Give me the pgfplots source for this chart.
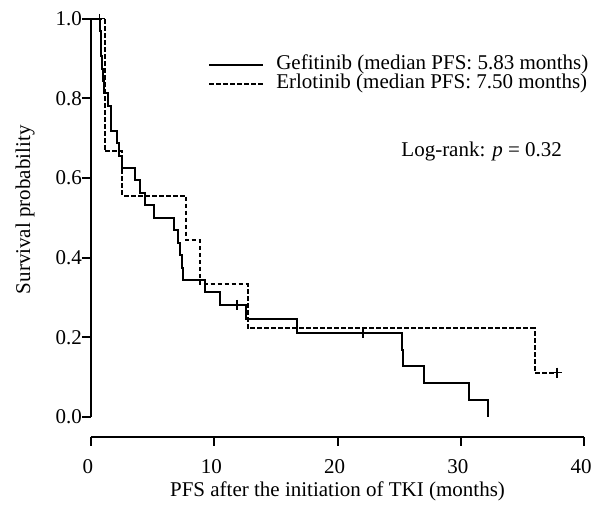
\documentclass[border=0pt]{standalone}
\usepackage{fontspec}
\setmainfont{Liberation Serif}
\usepackage{pgfplots}
\pgfplotsset{compat=1.18}
\begin{document}
\fontsize{21}{23}\selectfont
\begin{tikzpicture}
\useasboundingbox (-91pt,-79.3pt) rectangle (502pt,436.7pt);
\begin{axis}[
  scale only axis, width=493pt, height=417.9pt,
  xmin=0, xmax=40, ymin=-0.05, ymax=1,
  clip=false,
  axis line style={draw=none},
  tick align=outside, tick pos=left,
  major tick length=9pt,
  tick style={black, line width=2pt},
  xtick={0,10,20,30,40},
  ytick={0,0.2,0.4,0.6,0.8,1},
  /pgf/number format/assume math mode=true,
  yticklabel style={/pgf/number format/fixed, /pgf/number format/fixed zerofill, /pgf/number format/precision=1,
    anchor=east, inner sep=0pt, font=\fontsize{21}{23}\selectfont},
  xticklabel style={anchor=north, inner sep=0pt, yshift=-14pt, xshift=-3pt, font=\fontsize{21}{23}\selectfont},
  xlabel={PFS after the initiation of TKI (months)},
  ylabel={Survival probability},
  xlabel style={at={(rel axis cs:0.5,0)}, anchor=center, yshift=-55pt, font=\fontsize{21}{23}\selectfont},
  ylabel style={at={(rel axis cs:0,0.543)}, anchor=center, yshift=66pt, font=\fontsize{21}{23}\selectfont},
  legend image code/.code={\draw[#1] (0pt,0pt) -- (54pt,0pt);},
  legend style={at={(axis cs:9.5,0.86)}, anchor=west, draw=none, fill=none, inner sep=0pt,
    font=\fontsize{21}{23}\selectfont, column sep=12pt, row sep=0pt,
    nodes={inner sep=0pt, text height=14.4pt, text depth=5.4pt}},
  legend cell align=left,
]
% Gefitinib
\addplot[black, line width=2pt, const plot] coordinates {
(0,1) (0.75,0.969) (0.8,0.938) (0.85,0.906) (0.9,0.875) (1.0,0.844) (1.05,0.8125)
(1.4,0.781) (1.6,0.75) (1.65,0.719) (2.08,0.6875) (2.3,0.656) (2.49,0.625)
(3.57,0.594) (3.98,0.5625) (4.38,0.531) (5.15,0.5) (6.75,0.469) (7.05,0.4375)
(7.22,0.406) (7.35,0.375) (7.45,0.344) (9.25,0.3125) (10.47,0.281) (12.55,0.246)
(16.74,0.211) (25.25,0.169) (25.35,0.127) (27.05,0.084) (30.7,0.042) (32.2,0)
};
\addlegendentry{Gefitinib (median PFS: 5.83 months)}
% Erlotinib
\addplot[black, line width=2pt, dash pattern=on 4.5pt off 2.5pt, const plot] coordinates {
(0,1) (1.1,0.667) (2.55,0.556) (7.72,0.444) (8.84,0.333) (12.7,0.222)
(36.0,0.111) (37.8,0.111)
};
\addlegendentry{Erlotinib (median PFS: 7.50 months)}
% censored observations
\addplot[black, only marks, mark=+, mark size=5pt, line width=1.3pt, forget plot] coordinates {
(0.7,1) (11.85,0.281) (22.07,0.211)
};
\addplot[black, only marks, mark=+, mark size=5pt, line width=1.3pt, forget plot] coordinates {
(37.8,0.111)
};
\draw[black, line width=2pt] (axis cs:0,0) -- (axis cs:0,1);
\draw[black, line width=2pt] (axis cs:0,-0.05) -- (axis cs:40,-0.05);
\node[font=\fontsize{21}{23}\selectfont] at (axis cs:31.7,0.666) {Log-rank: \textit{p} = 0.32};
\end{axis}
\end{tikzpicture}
\end{document}
